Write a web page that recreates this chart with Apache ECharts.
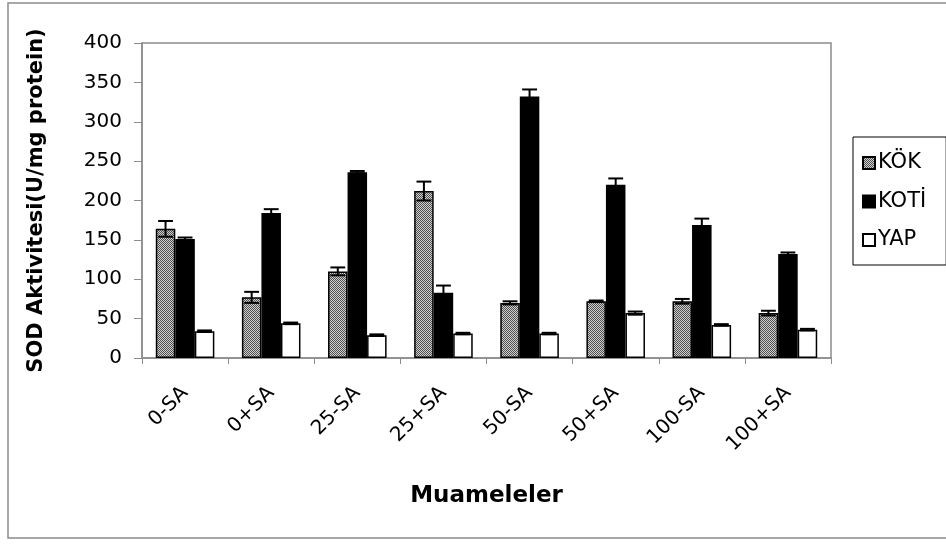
<!DOCTYPE html>
<html>
<head>
<meta charset="utf-8">
<style>
  html, body { margin: 0; padding: 0; background: #fff; }
  #chart { width: 946px; height: 545px; }
</style>
<script src="https://cdn.jsdelivr.net/npm/echarts@6/dist/echarts.min.js"></script>
</head>
<body>
<div id="chart"></div>
<script>
// Treatments on the x axis
const categories = ['0-SA', '0+SA', '25-SA', '25+SA', '50-SA', '50+SA', '100-SA', '100+SA'];

// Mean SOD activity (U/mg protein) per tissue
const kokValues  = [164, 77, 110, 212, 70, 72, 72, 57];
const kotiValues = [151, 184, 236, 83, 332, 220, 169, 132];
const yapValues  = [34, 44, 29, 31, 31, 57, 42, 36];

// Standard errors
const kokErr  = [10, 7, 5, 12, 2, 1, 3, 3];
const kotiErr = [2, 5, 1.5, 9, 9, 8, 8, 2];
const yapErr  = [1, 1, 1, 1, 1, 2, 1, 1];

const seriesNames = ['KÖK', 'KOTİ', 'YAP'];
const yTicks = { min: 0, max: 400, step: 50 };

const FONT = 'DejaVu Sans';
const GAP_RATIO = 0.32;

// Fine dotted grey fill for the first tissue
function makeDotPattern() {
  const c = document.createElement('canvas');
  c.width = 2; c.height = 2;
  const ctx = c.getContext('2d');
  ctx.fillStyle = '#d0d0d0';
  ctx.fillRect(0, 0, 2, 2);
  ctx.fillStyle = '#505050';
  ctx.fillRect(0, 0, 1, 1);
  ctx.fillRect(1, 1, 1, 1);
  return c;
}
const dotFill = { image: makeDotPattern(), repeat: 'repeat' };

const fills = [dotFill, '#000000', '#ffffff'];
const allValues = [kokValues, kotiValues, yapValues];
const allErrs = [kokErr, kotiErr, yapErr];

function errorRenderer(slot) {
  return function (params, api) {
    const ci = api.value(0);
    const mean = api.value(1);
    const e = api.value(2);
    const top = api.coord([ci, mean + e]);
    const bot = api.coord([ci, mean - e]);
    const band = api.size([1, 0])[0];
    const bw = band * (1 - GAP_RATIO) / 3;
    const x = top[0] + (slot - 1) * bw;
    const half = bw * 0.38;
    const style = { stroke: '#000', lineWidth: 2 };
    return {
      type: 'group',
      children: [
        { type: 'line', shape: { x1: x, y1: top[1], x2: x, y2: bot[1] }, style },
        { type: 'line', shape: { x1: x - half, y1: top[1], x2: x + half, y2: top[1] }, style },
        { type: 'line', shape: { x1: x - half, y1: bot[1], x2: x + half, y2: bot[1] }, style }
      ]
    };
  };
}

const series = [];
seriesNames.forEach((name, i) => {
  series.push({
    name,
    type: 'bar',
    data: allValues[i],
    barGap: '0%',
    barCategoryGap: (GAP_RATIO * 100) + '%',
    itemStyle: { color: fills[i], borderColor: '#000', borderWidth: 1.5 },
    emphasis: { disabled: true },
    z: 2
  });
});
seriesNames.forEach((name, i) => {
  series.push({
    name: name + '-err',
    type: 'custom',
    renderItem: errorRenderer(i),
    data: allValues[i].map((v, k) => [k, v, allErrs[i][k]]),
    encode: { x: 0, y: 1 },
    z: 5,
    silent: true
  });
});

const chart = echarts.init(document.getElementById('chart'), null, { renderer: 'canvas' });
chart.setOption({
  animation: false,
  backgroundColor: '#ffffff',
  textStyle: { fontFamily: FONT, color: '#000' },
  graphic: [
    {
      type: 'rect',
      shape: { x: 8, y: 3, width: 960, height: 535 },
      style: { fill: 'none', stroke: '#8c8c8c', lineWidth: 1.5 },
      silent: true
    }
  ],
  grid: {
    left: 142, top: 43, right: 115, bottom: 187,
    show: true, borderColor: '#8c8c8c', borderWidth: 1.5, backgroundColor: 'transparent'
  },
  legend: {
    data: seriesNames,
    orient: 'vertical',
    left: 853, top: 137,
    padding: [15, 20, 14, 9],
    itemGap: 16.5,
    itemWidth: 12, itemHeight: 12,
    icon: 'rect',
    borderColor: '#000', borderWidth: 1,
    textStyle: { fontFamily: FONT, fontSize: 21, lineHeight: 22, color: '#000', padding: [0, 0, 0, -2] }
  },
  xAxis: {
    type: 'category',
    data: categories,
    name: 'Muameleler',
    nameLocation: 'middle',
    nameGap: 127,
    nameTextStyle: { fontFamily: FONT, fontSize: 23, fontWeight: 'bold', color: '#000' },
    axisLine: { lineStyle: { color: '#8c8c8c', width: 1.5 } },
    axisTick: { show: true, length: 6, lineStyle: { color: '#8c8c8c' } },
    axisLabel: { rotate: 45, margin: 32, fontFamily: FONT, fontSize: 20, color: '#000', interval: 0 }
  },
  yAxis: {
    type: 'value',
    min: yTicks.min, max: yTicks.max, interval: yTicks.step,
    name: 'SOD Aktivitesi(U/mg protein)',
    nameLocation: 'middle',
    nameGap: 95,
    nameTextStyle: { fontFamily: FONT, fontSize: 21, fontWeight: 'bold', color: '#000' },
    axisLine: { show: true, lineStyle: { color: '#8c8c8c', width: 1.5 } },
    axisTick: { show: true, length: 8, lineStyle: { color: '#8c8c8c' } },
    splitLine: { show: false },
    axisLabel: { margin: 20, fontFamily: FONT, fontSize: 20, color: '#000' }
  },
  series
});
</script>
</body>
</html>
